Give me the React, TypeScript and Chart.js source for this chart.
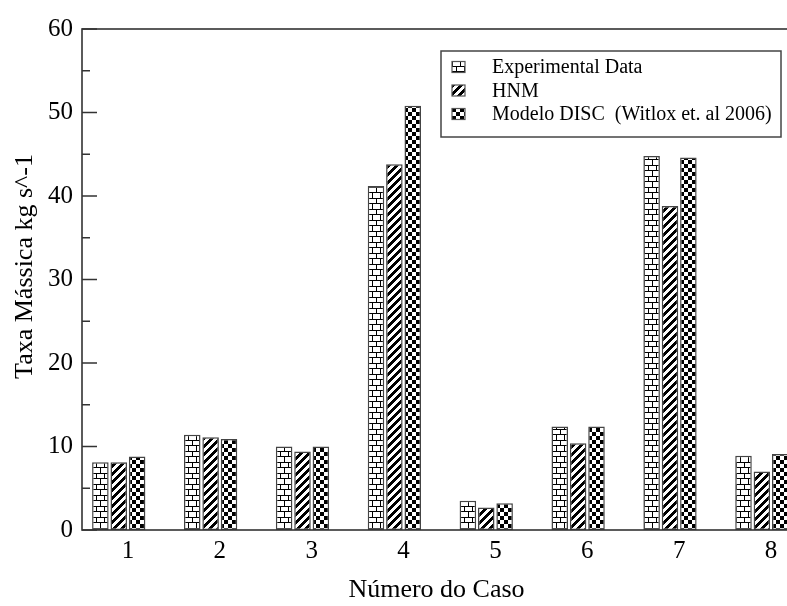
import React, { useEffect, useRef } from 'react';
import { Chart, registerables } from 'chart.js';

Chart.register(...registerables);

const cases = ['1', '2', '3', '4', '5', '6', '7', '8'];
const experimental = [8.1, 11.4, 10.0, 41.2, 3.5, 12.4, 44.8, 8.9];
const hnm = [8.1, 11.1, 9.4, 43.8, 2.7, 10.4, 38.8, 7.0];
const disc = [8.8, 10.9, 10.0, 50.8, 3.2, 12.4, 44.6, 9.1];
const spacer = [0, 0, 0, 0, 0, 0, 0, 0];
const seriesLabels = ['Experimental Data', 'HNM', 'Modelo DISC  (Witlox et. al 2006)'];
const xTitle = 'Número do Caso    ';
const yTitle = '    Taxa Mássica kg s^-1';
const yMin = 0;
const yMax = 60;
const yStep = 10;

const FONT = "'Liberation Serif', 'Times New Roman', serif";

function makePattern(kind: string): CanvasPattern | string {
  const c = document.createElement('canvas');
  let w = 8;
  let h = 8;
  if (kind === 'brick') { w = 8; h = 11; }
  c.width = w;
  c.height = h;
  const ctx = c.getContext('2d');
  if (!ctx) return '#fff';
  const img = ctx.createImageData(w, h);
  for (let y = 0; y < h; y++) {
    for (let x = 0; x < w; x++) {
      let black = false;
      if (kind === 'brick') {
        black = y === 0 || y === 5 || (y < 5 && x === 0) || (y > 5 && x === 4);
      } else if (kind === 'stripe') {
        black = (x + y) % 8 < 4;
      } else {
        black = (Math.floor(x / 4) + Math.floor(y / 4)) % 2 === 0;
      }
      const i = (y * w + x) * 4;
      const v = black ? 0 : 255;
      img.data[i] = v;
      img.data[i + 1] = v;
      img.data[i + 2] = v;
      img.data[i + 3] = 255;
    }
  }
  ctx.putImageData(img, 0, 0);
  const p = ctx.createPattern(c, 'repeat');
  return p || '#fff';
}

const framePlugin = {
  id: 'frameAndLegend',
  afterDatasetsDraw(chart: any) {
    const { ctx, chartArea } = chart;
    const { left, top, right, bottom } = chartArea;
    const y = chart.scales.y;
    ctx.save();
    ctx.strokeStyle = '#333';
    ctx.lineWidth = 1.6;
    ctx.strokeRect(left, top, right - left, bottom - top);
    ctx.beginPath();
    y.ticks.forEach((t: any) => {
      const py = y.getPixelForValue(t.value);
      ctx.moveTo(left, py);
      ctx.lineTo(left + 15, py);
      const mv = t.value + yStep / 2;
      if (mv < y.max) {
        const pm = y.getPixelForValue(mv);
        ctx.moveTo(left, pm);
        ctx.lineTo(left + 8, pm);
      }
    });
    ctx.stroke();

    const bx = 441;
    const by = 51;
    const bw = 340;
    const bh = 86;
    ctx.fillStyle = '#fff';
    ctx.fillRect(bx, by, bw, bh);
    ctx.strokeStyle = '#444';
    ctx.lineWidth = 1.5;
    ctx.strokeRect(bx, by, bw, bh);
    ctx.font = `20px ${FONT}`;
    ctx.textBaseline = 'middle';
    ctx.textAlign = 'left';
    const rowY = [67, 90.5, 114];
    seriesLabels.forEach((lab, i) => {
      const ds = chart.data.datasets[i];
      const cy = rowY[i];
      ctx.fillStyle = ds.backgroundColor;
      ctx.fillRect(452, cy - 5.5, 13, 11);
      ctx.strokeStyle = '#555';
      ctx.lineWidth = 1.2;
      ctx.strokeRect(452, cy - 5.5, 13, 11);
      ctx.fillStyle = '#000';
      ctx.fillText(lab, 492, cy + 1);
    });
    ctx.restore();
  },
};

export default function App() {
  const ref = useRef<HTMLCanvasElement | null>(null);

  useEffect(() => {
    if (!ref.current) return;
    const brick = makePattern('brick');
    const stripe = makePattern('stripe');
    const check = makePattern('check');
    const common = {
      borderColor: '#444',
      borderWidth: 1.5,
      borderSkipped: false,
      categoryPercentage: 0.8,
      barPercentage: 0.9,
    };
    const chart = new Chart(ref.current, {
      type: 'bar',
      data: {
        labels: cases,
        datasets: [
          { label: seriesLabels[0], data: experimental, backgroundColor: brick, ...common },
          { label: seriesLabels[1], data: hnm, backgroundColor: stripe, ...common },
          { label: seriesLabels[2], data: disc, backgroundColor: check, ...common },
          {
            label: '',
            data: spacer,
            backgroundColor: 'rgba(0,0,0,0)',
            borderWidth: 0,
            categoryPercentage: 0.8,
            barPercentage: 0.9,
          },
        ],
      } as any,
      options: {
        animation: false,
        responsive: false,
        maintainAspectRatio: false,
        layout: { padding: { top: 29, right: 13, left: 0, bottom: 0 } },
        plugins: {
          legend: { display: false },
          tooltip: { enabled: false },
        },
        scales: {
          x: {
            grid: { display: false, drawTicks: false },
            border: { display: false },
            ticks: { font: { family: FONT, size: 25 }, color: '#000', padding: 6 },
            title: {
              display: true,
              text: xTitle,
              font: { family: FONT, size: 26 },
              color: '#000',
              padding: { top: 0, bottom: 0 },
            },
            afterFit: (s: any) => {
              s.height = 76;
            },
          },
          y: {
            min: yMin,
            max: yMax,
            ticks: { stepSize: yStep, font: { family: FONT, size: 25 }, color: '#000', padding: 9 },
            grid: { display: false, drawTicks: false },
            border: { display: false },
            title: {
              display: true,
              text: yTitle,
              font: { family: FONT, size: 26 },
              color: '#000',
              padding: { top: 10, bottom: 0 },
            },
            afterFit: (s: any) => {
              s.width = 82;
            },
          },
        },
      } as any,
      plugins: [framePlugin],
    });
    return () => chart.destroy();
  }, []);

  return (
    <div
      style={{
        position: 'fixed',
        left: 0,
        top: 0,
        width: 787,
        height: 606,
        overflow: 'hidden',
        background: '#fff',
      }}
    >
      <canvas ref={ref} width={830} height={606} style={{ display: 'block' }} />
    </div>
  );
}
